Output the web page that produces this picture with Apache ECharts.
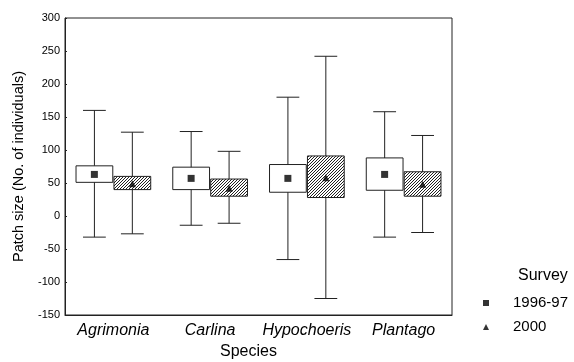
<!DOCTYPE html>
<html>
<head>
<meta charset="utf-8">
<script src="https://cdn.jsdelivr.net/npm/echarts@6/dist/echarts.min.js"></script>
<style>
  html, body { margin: 0; padding: 0; background: #fff; }
  #chart { width: 574px; height: 362px; }
</style>
</head>
<body>
<div id="chart"></div>
<script>
// species on the x axis
var species = ["Agrimonia", "Carlina", "Hypochoeris", "Plantago"];
var yTicks = [-150, 300, 50];  // min, max, interval

// [lower whisker, box bottom, box top, upper whisker] per species
var box9697 = [[-32, 51, 76, 160], [-14, 40, 74, 128], [-66, 36, 78, 180], [-32, 39, 88, 158]];
var box2000 = [[-27, 40, 60, 127], [-11, 30, 56, 98], [-125, 28, 91, 242], [-25, 30, 67, 122]];
// means
var mean9697 = [63, 57, 57, 63];
var mean2000 = [49, 42, 58, 48];

var lineColor = "#222";

// diagonal hatch for the 2000 boxes
var hatch = document.createElement("canvas");
hatch.width = 3; hatch.height = 3;
var hc = hatch.getContext("2d");
hc.fillStyle = "#fff";
hc.fillRect(0, 0, 3, 3);
hc.strokeStyle = "#222";
hc.lineWidth = 1;
hc.beginPath();
hc.moveTo(0, 3); hc.lineTo(3, 0);
hc.moveTo(-1, 1); hc.lineTo(1, -1);
hc.moveTo(2, 4); hc.lineTo(4, 2);
hc.stroke();

function withIndex(rows) {
  return rows.map(function (r, i) { return [i].concat(r); });
}

function boxRenderer(offset, fill) {
  return function (params, api) {
    var cat = api.value(0);
    var band = api.size([1, 0])[0];
    var cx = api.coord([cat, 0])[0] + offset * band;
    var w = band * 0.38;
    var cap = w * 0.62;
    var lo = api.coord([cat, api.value(1)])[1];
    var q1 = api.coord([cat, api.value(2)])[1];
    var q3 = api.coord([cat, api.value(3)])[1];
    var hi = api.coord([cat, api.value(4)])[1];
    var st = { stroke: lineColor, lineWidth: 1 };
    return {
      type: "group",
      children: [
        { type: "line", shape: { x1: cx, y1: hi, x2: cx, y2: lo }, style: st },
        { type: "line", shape: { x1: cx - cap / 2, y1: hi, x2: cx + cap / 2, y2: hi }, style: st },
        { type: "line", shape: { x1: cx - cap / 2, y1: lo, x2: cx + cap / 2, y2: lo }, style: st },
        { type: "rect", shape: { x: cx - w / 2, y: q3, width: w, height: q1 - q3 },
          style: { fill: fill, stroke: lineColor, lineWidth: 1 } }
      ]
    };
  };
}

var myChart = echarts.init(document.getElementById("chart"));
var option = {
  animation: false,
  grid: { left: 65, right: 122, top: 18, bottom: 47 },
  xAxis: {
    type: "category",
    data: species,
    axisLine: { onZero: false, lineStyle: { color: lineColor } },
    axisTick: { show: false },
    axisLabel: { interval: 0, color: "#000", fontSize: 16, fontStyle: "italic", fontFamily: "Liberation Sans", margin: 8 },
    splitLine: { show: false }
  },
  yAxis: {
    type: "value",
    min: yTicks[0], max: yTicks[1], interval: yTicks[2],
    name: "Patch size (No. of individuals)",
    nameLocation: "middle",
    nameGap: 39,
    nameTextStyle: { color: "#000", fontSize: 14.5, fontFamily: "Liberation Sans" },
    axisLine: { show: true, lineStyle: { color: lineColor } },
    axisTick: { show: true, inside: true, length: 2, lineStyle: { color: lineColor } },
    axisLabel: { color: "#000", fontSize: 11, fontFamily: "Liberation Sans", margin: 5 },
    splitLine: { show: false }
  },
  legend: {
    orient: "vertical",
    left: 478, top: 290,
    itemWidth: 6, itemHeight: 6,
    itemGap: 8,
    data: [{ name: "1996-97", icon: "rect" }, { name: "2000", icon: "triangle" }],
    textStyle: { color: "#000", fontSize: 15, fontFamily: "Liberation Sans", lineHeight: 16, padding: [0, 0, 0, 19] }
  },
  graphic: [
    { type: "rect", silent: true, shape: { x: 65, y: 18, width: 387, height: 297 },
      style: { fill: "none", stroke: lineColor, lineWidth: 1 } },
    { type: "text", left: 518, top: 268,
      style: { text: "Survey", fill: "#000", fontSize: 16, fontFamily: "Liberation Sans" } },
    { type: "text", left: 220, top: 344,
      style: { text: "Species", fill: "#000", fontSize: 16, fontFamily: "Liberation Sans" } }
  ],
  series: [
    { name: "box9697", type: "custom", renderItem: boxRenderer(-0.196, "#fff"),
      data: withIndex(box9697), encode: { x: 0, y: [1, 2, 3, 4] }, z: 2 },
    { name: "box2000", type: "custom", renderItem: boxRenderer(0.196, { image: hatch, repeat: "repeat" }),
      data: withIndex(box2000), encode: { x: 0, y: [1, 2, 3, 4] }, z: 2 },
    { name: "1996-97", type: "scatter", symbol: "rect", symbolSize: 7, symbolOffset: [-19, 0],
      itemStyle: { color: "#000" }, data: mean9697, z: 5 },
    { name: "2000", type: "scatter", symbol: "triangle", symbolSize: 7, symbolOffset: [19, 0],
      itemStyle: { color: "#000" }, data: mean2000, z: 5 }
  ]
};
myChart.setOption(option);
</script>
</body>
</html>
